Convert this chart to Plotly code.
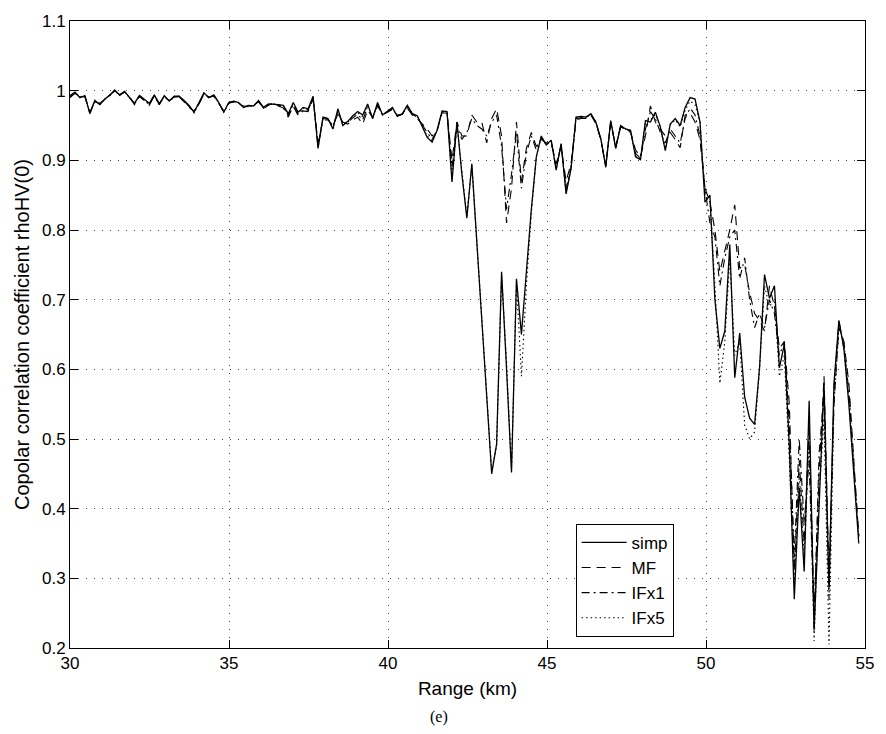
import plotly.graph_objects as go

# Range gates (km)
n_gates = 160
gate_km = 0.156
range_km = [round(30 + gate_km * i, 3) for i in range(n_gates)]

simp = [
    0.993, 0.998, 0.990, 0.993, 0.967, 0.986, 0.980, 0.988, 0.993, 1.001,
    0.994, 0.999, 0.990, 0.982, 0.993, 0.988, 0.982, 0.994, 0.980, 0.993,
    0.985, 0.992, 0.992, 0.986, 0.979, 0.969, 0.982, 0.997, 0.990, 0.994,
    0.983, 0.969, 0.983, 0.985, 0.983, 0.976, 0.979, 0.978, 0.986, 0.976,
    0.981, 0.981, 0.980, 0.979, 0.967, 0.983, 0.969, 0.976, 0.974, 0.992,
    0.917, 0.962, 0.960, 0.945, 0.974, 0.950, 0.956, 0.964, 0.970, 0.965,
    0.981, 0.960, 0.983, 0.965, 0.971, 0.976, 0.963, 0.967, 0.979, 0.967,
    0.964, 0.948, 0.933, 0.926, 0.943, 0.971, 0.970, 0.869, 0.955, 0.880,
    0.817, 0.895, 0.780, 0.665, 0.555, 0.450, 0.493, 0.740, 0.600, 0.452,
    0.730, 0.650, 0.740, 0.830, 0.905, 0.935, 0.922, 0.929, 0.886, 0.924,
    0.852, 0.888, 0.962, 0.963, 0.962, 0.967, 0.955, 0.931, 0.890, 0.957,
    0.917, 0.950, 0.945, 0.943, 0.905, 0.901, 0.957, 0.955, 0.969, 0.948,
    0.914, 0.952, 0.960, 0.950, 0.976, 0.990, 0.988, 0.955, 0.840, 0.850,
    0.700, 0.630, 0.655, 0.779, 0.588, 0.652, 0.560, 0.530, 0.521, 0.602,
    0.736, 0.702, 0.720, 0.602, 0.636, 0.490, 0.270, 0.430, 0.310, 0.555,
    0.225, 0.400, 0.580, 0.285, 0.580, 0.670, 0.630, 0.550, 0.450, 0.350,
]

mf = [
    0.990, 0.996, 0.992, 0.991, 0.969, 0.984, 0.982, 0.987, 0.994, 0.999,
    0.993, 0.998, 0.991, 0.980, 0.992, 0.985, 0.979, 0.993, 0.982, 0.991,
    0.986, 0.990, 0.991, 0.984, 0.976, 0.971, 0.981, 0.995, 0.991, 0.992,
    0.981, 0.971, 0.982, 0.984, 0.981, 0.978, 0.977, 0.979, 0.984, 0.974,
    0.979, 0.982, 0.978, 0.975, 0.962, 0.978, 0.964, 0.971, 0.970, 0.988,
    0.925, 0.958, 0.958, 0.950, 0.966, 0.955, 0.952, 0.958, 0.962, 0.952,
    0.972, 0.962, 0.978, 0.966, 0.969, 0.973, 0.965, 0.966, 0.975, 0.965,
    0.960, 0.952, 0.945, 0.935, 0.942, 0.968, 0.968, 0.900, 0.955, 0.935,
    0.935, 0.965, 0.955, 0.955, 0.925, 0.960, 0.974, 0.935, 0.810, 0.860,
    0.955, 0.870, 0.917, 0.940, 0.920, 0.930, 0.925, 0.925, 0.895, 0.920,
    0.870, 0.895, 0.958, 0.960, 0.960, 0.965, 0.953, 0.930, 0.893, 0.955,
    0.920, 0.948, 0.945, 0.940, 0.915, 0.905, 0.935, 0.978, 0.955, 0.945,
    0.935, 0.940, 0.930, 0.918, 0.965, 0.968, 0.955, 0.930, 0.860, 0.840,
    0.800, 0.740, 0.770, 0.800, 0.836, 0.745, 0.750, 0.710, 0.680, 0.670,
    0.655, 0.720, 0.690, 0.630, 0.640, 0.550, 0.310, 0.470, 0.350, 0.520,
    0.250, 0.450, 0.590, 0.300, 0.550, 0.660, 0.640, 0.580, 0.470, 0.360,
]

ifx1 = [
    0.991, 0.997, 0.991, 0.992, 0.968, 0.985, 0.981, 0.987, 0.993, 1.000,
    0.994, 0.998, 0.990, 0.981, 0.992, 0.986, 0.980, 0.993, 0.981, 0.992,
    0.985, 0.991, 0.991, 0.985, 0.977, 0.970, 0.981, 0.996, 0.990, 0.993,
    0.982, 0.970, 0.982, 0.984, 0.982, 0.977, 0.978, 0.978, 0.985, 0.975,
    0.980, 0.981, 0.979, 0.977, 0.964, 0.980, 0.966, 0.973, 0.972, 0.990,
    0.920, 0.960, 0.959, 0.948, 0.970, 0.953, 0.954, 0.961, 0.966, 0.958,
    0.976, 0.961, 0.980, 0.965, 0.970, 0.974, 0.964, 0.966, 0.977, 0.966,
    0.962, 0.950, 0.940, 0.930, 0.943, 0.970, 0.969, 0.890, 0.950, 0.930,
    0.940, 0.960, 0.950, 0.945, 0.935, 0.955, 0.965, 0.920, 0.830, 0.880,
    0.940, 0.860, 0.910, 0.935, 0.915, 0.932, 0.923, 0.927, 0.890, 0.922,
    0.860, 0.890, 0.960, 0.961, 0.961, 0.966, 0.954, 0.930, 0.891, 0.956,
    0.918, 0.949, 0.944, 0.942, 0.910, 0.903, 0.945, 0.970, 0.960, 0.940,
    0.925, 0.945, 0.935, 0.925, 0.960, 0.975, 0.965, 0.935, 0.860, 0.810,
    0.790, 0.720, 0.760, 0.790, 0.800, 0.730, 0.760, 0.700, 0.660, 0.680,
    0.660, 0.700, 0.680, 0.620, 0.640, 0.520, 0.330, 0.500, 0.380, 0.470,
    0.230, 0.480, 0.560, 0.270, 0.570, 0.670, 0.630, 0.570, 0.460, 0.360,
]

ifx5 = [
    0.992, 0.997, 0.991, 0.992, 0.968, 0.985, 0.980, 0.988, 0.993, 1.000,
    0.994, 0.998, 0.991, 0.981, 0.993, 0.987, 0.981, 0.993, 0.980, 0.992,
    0.986, 0.991, 0.992, 0.985, 0.978, 0.968, 0.982, 0.996, 0.990, 0.993,
    0.982, 0.968, 0.983, 0.985, 0.982, 0.976, 0.978, 0.978, 0.985, 0.975,
    0.980, 0.981, 0.979, 0.978, 0.965, 0.982, 0.968, 0.975, 0.973, 0.991,
    0.918, 0.962, 0.960, 0.946, 0.972, 0.951, 0.955, 0.963, 0.968, 0.963,
    0.979, 0.960, 0.982, 0.965, 0.970, 0.975, 0.963, 0.967, 0.978, 0.967,
    0.963, 0.948, 0.935, 0.928, 0.944, 0.970, 0.970, 0.875, 0.950, 0.885,
    0.820, 0.893, 0.785, 0.670, 0.560, 0.455, 0.490, 0.735, 0.610, 0.455,
    0.725, 0.590, 0.720, 0.825, 0.905, 0.934, 0.922, 0.928, 0.887, 0.923,
    0.853, 0.889, 0.961, 0.962, 0.962, 0.966, 0.955, 0.931, 0.891, 0.956,
    0.918, 0.950, 0.945, 0.942, 0.906, 0.902, 0.955, 0.958, 0.966, 0.948,
    0.916, 0.951, 0.958, 0.948, 0.972, 0.985, 0.980, 0.955, 0.850, 0.840,
    0.720, 0.580, 0.640, 0.760, 0.620, 0.640, 0.520, 0.500, 0.510, 0.600,
    0.720, 0.690, 0.700, 0.590, 0.620, 0.470, 0.290, 0.450, 0.330, 0.500,
    0.210, 0.420, 0.530, 0.205, 0.550, 0.660, 0.640, 0.560, 0.460, 0.360,
]

series_names = ["simp", "MF", "IFx1", "IFx5"]
x_ticks = [30, 35, 40, 45, 50, 55]
y_ticks = [0.2, 0.3, 0.4, 0.5, 0.6, 0.7, 0.8, 0.9, 1.0, 1.1]
y_ticktext = ["0.2", "0.3", "0.4", "0.5", "0.6", "0.7", "0.8", "0.9", "1", "1.1"]

styles = [
    dict(color="black", width=1.3, dash="solid"),
    dict(color="black", width=1.1, dash="9px,6px"),
    dict(color="black", width=1.1, dash="8px,4px,2px,4px"),
    dict(color="black", width=1.1, dash="1.5px,3px"),
]

fig = go.Figure()
for name, vals, st in zip(series_names, [simp, mf, ifx1, ifx5], styles):
    fig.add_trace(go.Scatter(x=range_km, y=vals, mode="lines", name=name, line=st))

axis_common = dict(
    showline=True, linecolor="black", linewidth=1, mirror="ticks",
    ticks="inside", ticklen=8, tickcolor="black", tickwidth=1,
    showgrid=True, gridcolor="#444444", gridwidth=1, griddash="1px,7px",
    zeroline=False, tickfont=dict(size=17, color="black"),
)

fig.update_layout(
    width=886, height=734,
    margin=dict(l=70, r=15, t=18, b=86),
    plot_bgcolor="white", paper_bgcolor="white",
    font=dict(family="Liberation Sans, Arial, sans-serif", size=17, color="black"),
    xaxis=dict(range=[30, 55], tickvals=x_ticks,
               title=dict(text="Range (km)", font=dict(size=19), standoff=9),
               **axis_common),
    yaxis=dict(range=[0.2, 1.1], tickvals=y_ticks, ticktext=y_ticktext,
               title=dict(text="Copolar correlation coefficient rhoHV(0)", font=dict(size=20), standoff=6),
               **axis_common),
    legend=dict(x=0.636, y=0.198, xanchor="left", yanchor="top",
                bordercolor="black", borderwidth=1, bgcolor="white",
                font=dict(size=17), tracegroupgap=0, itemwidth=45),
    showlegend=True,
    annotations=[dict(text="(e)", x=0.464, y=-0.11, xref="paper", yref="paper",
                      showarrow=False, xanchor="center", yanchor="middle",
                      font=dict(family="Liberation Serif, Times New Roman, serif", size=16))],
)

fig.write_html("out.html")
